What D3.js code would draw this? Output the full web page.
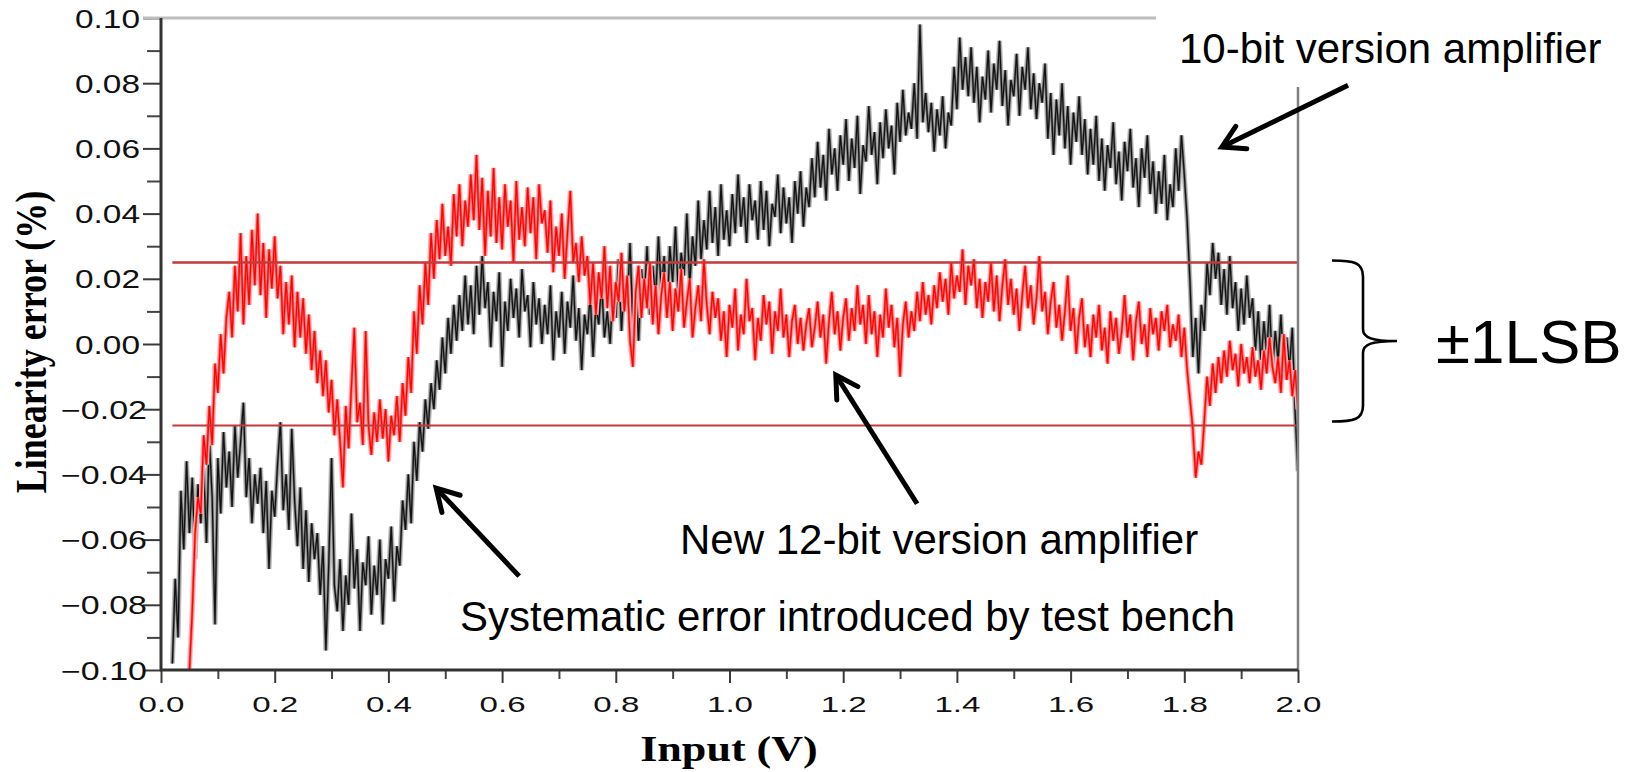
<!DOCTYPE html>
<html>
<head>
<meta charset="utf-8">
<script src="https://cdn.jsdelivr.net/npm/d3@7"></script>
<style>
  body { margin: 0; background: #fff; }
  svg { display: block; }
</style>
</head>
<body>
<div id="chart"></div>
<script>
// Linearity error (%), one sample every 5 mV
var sampleStep = 0.005;

// 10-bit version amplifier, first sample at 0.02 V
var tenBitStart = 0.02;
var tenBit = [
  -0.098,-0.072,-0.090,-0.045,-0.063,-0.036,-0.058,-0.041,-0.066,-0.043,-0.055,-0.038,-0.061,-0.029,-0.047,-0.086,-0.035,-0.052,-0.027,-0.044,
  -0.033,-0.050,-0.025,-0.041,-0.030,-0.018,-0.047,-0.035,-0.055,-0.040,-0.049,-0.038,-0.058,-0.042,-0.069,-0.045,-0.053,-0.037,-0.024,-0.051,
  -0.040,-0.057,-0.026,-0.048,-0.062,-0.044,-0.069,-0.051,-0.073,-0.055,-0.066,-0.058,-0.077,-0.062,-0.094,-0.068,-0.035,-0.074,-0.082,-0.066,
  -0.088,-0.071,-0.080,-0.052,-0.075,-0.063,-0.088,-0.067,-0.074,-0.059,-0.083,-0.068,-0.077,-0.060,-0.086,-0.066,-0.072,-0.056,-0.079,-0.062,
  -0.068,-0.048,-0.057,-0.040,-0.055,-0.030,-0.042,-0.024,-0.033,-0.017,-0.026,-0.012,-0.020,-0.005,-0.014,0.002,-0.009,0.008,-0.003,0.012,
  0.001,0.015,0.004,0.021,0.006,0.018,0.003,0.024,0.009,0.027,0.011,0.019,-0.001,0.016,0.007,0.022,-0.007,0.013,0.004,0.020,
  0.008,0.017,0.002,0.023,0.010,0.015,-0.001,0.019,0.006,0.014,0.000,0.012,0.003,0.018,-0.005,0.010,0.002,0.016,-0.003,0.013,
  0.005,0.021,0.001,0.011,-0.008,0.009,0.003,0.015,-0.004,0.012,0.006,0.019,0.002,0.010,0.000,0.017,0.008,0.026,0.004,0.020,
  0.011,0.031,0.006,0.018,0.001,0.023,0.013,0.030,0.009,0.024,0.014,0.033,0.016,0.027,0.008,0.030,0.019,0.036,0.015,0.028,
  0.021,0.040,0.018,0.033,0.024,0.044,0.026,0.038,0.029,0.047,0.031,0.042,0.027,0.049,0.032,0.041,0.030,0.046,0.034,0.052,
  0.036,0.045,0.031,0.049,0.038,0.044,0.032,0.050,0.035,0.047,0.030,0.043,0.039,0.052,0.034,0.048,0.037,0.045,0.031,0.050,
  0.040,0.053,0.036,0.048,0.042,0.057,0.045,0.062,0.048,0.058,0.044,0.066,0.052,0.060,0.047,0.064,0.055,0.069,0.050,0.063,
  0.054,0.070,0.046,0.061,0.056,0.073,0.058,0.065,0.049,0.068,0.057,0.072,0.060,0.067,0.052,0.074,0.062,0.078,0.064,0.071,
  0.066,0.080,0.063,0.098,0.068,0.077,0.065,0.074,0.059,0.072,0.064,0.076,0.060,0.071,0.067,0.085,0.072,0.094,0.078,0.088,
  0.076,0.091,0.074,0.085,0.068,0.082,0.075,0.090,0.071,0.086,0.078,0.093,0.073,0.084,0.067,0.081,0.076,0.089,0.070,0.085,
  0.078,0.091,0.072,0.083,0.069,0.080,0.074,0.086,0.063,0.077,0.058,0.075,0.064,0.080,0.060,0.073,0.055,0.071,0.062,0.076,
  0.058,0.069,0.052,0.066,0.055,0.070,0.050,0.063,0.047,0.061,0.054,0.068,0.049,0.059,0.044,0.062,0.053,0.066,0.048,0.057,
  0.042,0.060,0.051,0.064,0.046,0.056,0.040,0.053,0.043,0.058,0.038,0.049,0.042,0.060,0.047,0.064,0.052,0.038,0.019,-0.004,
  0.008,-0.009,0.012,0.004,0.025,0.015,0.031,0.020,0.028,0.012,0.023,0.009,0.027,0.011,0.019,0.004,0.017,0.006,0.021,0.008,
  0.014,-0.002,0.010,-0.006,0.007,-0.003,0.012,-0.008,0.004,-0.005,0.009,-0.010,0.002,-0.007,0.005,-0.021,-0.039
];

// new 12-bit version amplifier, first sample at 0.05 V
var twelveBitStart = 0.05;
var twelveBit = [
  -0.100,-0.082,-0.058,-0.047,-0.052,-0.028,-0.037,-0.019,-0.031,-0.006,-0.015,0.003,-0.009,0.008,0.016,0.002,0.024,0.010,0.034,0.006,
  0.027,0.012,0.035,0.018,0.040,0.015,0.031,0.008,0.029,0.017,0.033,0.014,0.024,0.003,0.019,0.006,0.021,-0.001,0.016,0.002,
  0.014,-0.003,0.009,-0.008,0.004,-0.012,-0.002,-0.016,-0.005,-0.021,-0.011,-0.028,-0.017,-0.030,-0.044,-0.019,-0.032,-0.013,0.005,-0.024,
  -0.018,-0.031,0.004,-0.025,-0.034,-0.021,-0.030,-0.017,-0.029,-0.020,-0.036,-0.022,-0.028,-0.016,-0.030,-0.012,-0.022,-0.004,-0.015,0.010,
  -0.003,0.018,0.006,0.025,0.012,0.034,0.020,0.038,0.026,0.043,0.027,0.036,0.024,0.046,0.033,0.049,0.030,0.044,0.036,0.052,
  0.038,0.058,0.035,0.051,0.027,0.047,0.033,0.054,0.031,0.045,0.029,0.049,0.036,0.044,0.025,0.050,0.032,0.042,0.030,0.048,
  0.034,0.045,0.026,0.049,0.037,0.041,0.028,0.044,0.022,0.036,0.027,0.040,0.020,0.034,0.047,0.025,0.031,0.019,0.033,0.021,
  0.027,0.012,0.025,0.009,0.022,0.014,0.030,0.011,0.024,0.007,0.019,0.013,0.028,0.010,0.021,0.001,-0.007,0.016,0.024,0.008,
  0.020,0.011,0.025,0.006,0.018,0.003,0.015,0.022,0.008,0.019,0.004,0.017,0.010,0.023,0.005,0.013,0.020,0.002,0.011,0.018,
  0.007,0.026,0.012,0.003,0.016,0.008,0.014,0.001,0.010,-0.004,0.012,0.005,0.017,-0.002,0.009,0.003,0.020,0.007,0.011,-0.005,
  0.008,0.001,0.015,0.006,0.013,-0.003,0.010,0.004,0.017,0.002,0.009,-0.004,0.007,0.012,0.000,0.008,-0.002,0.006,0.011,-0.001,
  0.005,0.013,0.002,0.009,-0.006,0.007,0.016,0.003,0.010,-0.002,0.008,0.014,0.001,0.011,0.004,0.018,0.006,0.012,0.000,0.015,
  0.003,0.010,-0.004,0.009,0.002,0.017,0.005,0.012,-0.001,0.008,-0.010,0.006,0.013,0.002,0.010,0.004,0.016,0.007,0.019,0.009,
  0.015,0.006,0.018,0.011,0.022,0.013,0.020,0.009,0.025,0.014,0.021,0.016,0.029,0.012,0.024,0.018,0.026,0.011,0.020,0.008,
  0.019,0.013,0.025,0.010,0.021,0.007,0.018,0.026,0.012,0.020,0.009,0.017,0.004,0.015,0.024,0.011,0.018,0.006,0.014,0.027,
  0.010,0.016,0.003,0.013,0.019,0.005,0.012,0.001,0.010,0.021,0.004,0.011,-0.003,0.008,0.014,-0.001,0.006,-0.004,0.009,0.002,
  0.012,-0.002,0.005,-0.006,0.010,0.001,0.008,-0.003,0.004,0.015,0.002,0.009,-0.005,0.007,0.013,0.000,0.006,-0.004,0.011,0.003,
  0.008,-0.002,0.010,0.004,0.012,-0.001,0.006,0.001,0.009,-0.004,0.005,-0.008,-0.017,-0.026,-0.041,-0.033,-0.037,-0.024,-0.010,-0.019,
  -0.006,-0.015,-0.004,-0.012,-0.002,-0.010,0.001,-0.008,-0.003,-0.013,0.000,-0.009,-0.004,-0.012,-0.001,-0.010,-0.005,-0.014,-0.002,-0.009,
  0.002,-0.007,-0.012,-0.004,-0.015,0.003,-0.011,-0.005,-0.016,-0.008,-0.020
];

// ticks
var xTicks = [0, 0.2, 0.4, 0.6, 0.8, 1.0, 1.2, 1.4, 1.6, 1.8, 2.0];
var xTickLabels = ["0.0", "0.2", "0.4", "0.6", "0.8", "1.0", "1.2", "1.4", "1.6", "1.8", "2.0"];
var xMinorTicks = [0.1, 0.3, 0.5, 0.7, 0.9, 1.1, 1.3, 1.5, 1.7, 1.9];
var yTicks = [-0.10, -0.08, -0.06, -0.04, -0.02, 0.00, 0.02, 0.04, 0.06, 0.08, 0.10];
var yTickLabels = ["\u22120.10", "\u22120.08", "\u22120.06", "\u22120.04", "\u22120.02", "0.00", "0.02", "0.04", "0.06", "0.08", "0.10"];
var yMinorTicks = [-0.09, -0.07, -0.05, -0.03, -0.01, 0.01, 0.03, 0.05, 0.07, 0.09];

// +/- 1 LSB band of the 12-bit amplifier
var lsbLimits = [0.025, -0.025];

var width = 1637, height = 772;
var plot = {left: 161, right: 1298, top: 18, bottom: 670};
var sans = "'Liberation Sans', Arial, Helvetica, sans-serif";
var serif = "'Liberation Serif', 'Times New Roman', Times, serif";

var x = d3.scaleLinear().domain([0, 2]).range([plot.left, plot.right]);
var y = d3.scaleLinear().domain([-0.1, 0.1]).range([plot.bottom, plot.top]);

var svg = d3.select("#chart").append("svg")
    .attr("width", width)
    .attr("height", height)
    .style("background", "#fff");

svg.append("clipPath").attr("id", "plotclip")
  .append("rect")
    .attr("x", plot.left).attr("y", plot.top - 4)
    .attr("width", plot.right - plot.left).attr("height", plot.bottom - plot.top + 4);

// minor ticks first, majors with labels on top
var yMinor = svg.append("g").attr("transform", "translate(" + plot.left + ",0)")
    .call(d3.axisLeft(y).tickValues(yMinorTicks).tickSize(14).tickFormat(""));
yMinor.select(".domain").remove();
yMinor.selectAll(".tick line").attr("stroke", "#444").attr("stroke-width", 2);

var yAxis = d3.axisLeft(y).tickValues(yTicks).tickSize(18).tickPadding(3)
    .tickFormat(function(d, i) { return yTickLabels[i]; });
var gy = svg.append("g").attr("transform", "translate(" + plot.left + ",0)").call(yAxis);
gy.select(".domain").remove();
gy.selectAll(".tick line").attr("stroke", "#3a3a3a").attr("stroke-width", 2);
gy.selectAll(".tick text")
    .attr("font-family", sans)
    .attr("font-size", 25)
    .attr("fill", "#111")
    .attr("x", function(d) { return d < -0.001 ? -14 : -21; })
    .attr("dy", "0.36em")
    .attr("textLength", function(d) { return d < -0.001 ? 86 : 65; })
    .attr("lengthAdjust", "spacingAndGlyphs");

var xMinor = svg.append("g").attr("transform", "translate(0," + plot.bottom + ")")
    .call(d3.axisBottom(x).tickValues(xMinorTicks).tickSize(9).tickFormat(""));
xMinor.select(".domain").remove();
xMinor.selectAll(".tick line").attr("stroke", "#444").attr("stroke-width", 2);

var xAxis = d3.axisBottom(x).tickValues(xTicks).tickSize(13)
    .tickFormat(function(d, i) { return xTickLabels[i]; });
var gx = svg.append("g").attr("transform", "translate(0," + plot.bottom + ")").call(xAxis);
gx.select(".domain").remove();
gx.selectAll(".tick line").attr("stroke", "#3a3a3a").attr("stroke-width", 2);
gx.selectAll(".tick text")
    .attr("font-family", sans)
    .attr("font-size", 22)
    .attr("fill", "#111")
    .attr("y", 42)
    .attr("dy", 0)
    .attr("textLength", 46)
    .attr("lengthAdjust", "spacingAndGlyphs");

// the two traces: a pale wide band under a dark line
var line = d3.line()
    .x(function(d) { return x(d.v); })
    .y(function(d) { return y(d.e); });

function drawTrace(values, start, pale, mid, dark) {
  var pts = values.map(function(e, i) { return {v: start + i * sampleStep, e: e}; });
  var g = svg.append("g").attr("clip-path", "url(#plotclip)");
  g.append("path").datum(pts)
      .attr("d", line)
      .attr("fill", "none")
      .attr("stroke", pale)
      .attr("stroke-width", 5);
  g.append("path").datum(pts)
      .attr("d", line)
      .attr("fill", "none")
      .attr("stroke", mid)
      .attr("stroke-width", 2.6);
  g.append("path").datum(pts)
      .attr("d", line)
      .attr("fill", "none")
      .attr("stroke", dark)
      .attr("stroke-width", 1.2);
}
drawTrace(tenBit, tenBitStart, "#bdbdbd", "#6f6f6f", "#111");
drawTrace(twelveBit, twelveBitStart, "#ffb4b4", "#ff5a5a", "#ff0000");

// +/-1 LSB limits
svg.selectAll(".lsb")
    .data(lsbLimits)
  .enter().append("line")
    .attr("class", "lsb")
    .attr("x1", x(0.02)).attr("x2", plot.right)
    .attr("y1", function(d) { return y(d); })
    .attr("y2", function(d) { return y(d); })
    .attr("stroke", "#c23a3a")
    .attr("stroke-width", function(d, i) { return i === 0 ? 2.6 : 2; });

// frame
svg.append("line")
    .attr("x1", 143).attr("x2", 1156).attr("y1", plot.top).attr("y2", plot.top)
    .attr("stroke", "#bdbdbd").attr("stroke-width", 3);
svg.append("line")
    .attr("x1", plot.right).attr("x2", plot.right).attr("y1", 87).attr("y2", plot.bottom)
    .attr("stroke", "#808080").attr("stroke-width", 2.5);
svg.append("line")
    .attr("x1", plot.left).attr("x2", plot.left).attr("y1", plot.top).attr("y2", plot.bottom + 1)
    .attr("stroke", "#333").attr("stroke-width", 3);
svg.append("line")
    .attr("x1", plot.left - 1).attr("x2", plot.right).attr("y1", plot.bottom).attr("y2", plot.bottom)
    .attr("stroke", "#333").attr("stroke-width", 3);

// axis titles (the original bitmap was stretched sideways)
svg.append("text")
    .attr("transform", "translate(46," + 342 + ") scale(1.25,1) rotate(-90)")
    .attr("text-anchor", "middle")
    .attr("font-family", serif)
    .attr("font-weight", "bold")
    .attr("font-size", 36)
    .attr("fill", "#000")
    .text("Linearity error (%)");
svg.append("text")
    .attr("transform", "translate(729,761) scale(1.26,1)")
    .attr("text-anchor", "middle")
    .attr("font-family", serif)
    .attr("font-weight", "bold")
    .attr("font-size", 35)
    .attr("fill", "#000")
    .text("Input (V)");

// annotations
function arrow(v1, e1, v2, e2) {
  var x1 = x(v1), y1 = y(e1), x2 = x(v2), y2 = y(e2);
  var ang = Math.atan2(y2 - y1, x2 - x1), len = 25, spread = Math.PI / 6;
  var a = [x2 - len * Math.cos(ang - spread), y2 - len * Math.sin(ang - spread)];
  var b = [x2 - len * Math.cos(ang + spread), y2 - len * Math.sin(ang + spread)];
  svg.append("line")
      .attr("x1", x1).attr("y1", y1).attr("x2", x2).attr("y2", y2)
      .attr("stroke", "#000").attr("stroke-width", 5);
  svg.append("path")
      .attr("d", "M" + a[0] + "," + a[1] + "L" + x2 + "," + y2 + "L" + b[0] + "," + b[1])
      .attr("fill", "none").attr("stroke", "#000").attr("stroke-width", 5)
      .attr("stroke-linejoin", "miter").attr("stroke-linecap", "round");
}
arrow(2.088, 0.0794, 1.866, 0.0604);
arrow(1.330, -0.0490, 1.187, -0.0095);
arrow(0.630, -0.0712, 0.484, -0.0442);

function note(px, py, size, str) {
  svg.append("text")
      .attr("x", px).attr("y", py)
      .attr("font-family", sans)
      .attr("font-size", size)
      .attr("fill", "#000")
      .text(str);
}
note(1179, 63, 42, "10-bit version amplifier");
note(680, 554, 42, "New 12-bit version amplifier");
note(460, 631, 42, "Systematic error introduced by test bench");
note(1436, 363, 62, "\u00b11LSB");

// brace spanning the LSB band
var bt = y(lsbLimits[0]) - 2, bb = y(lsbLimits[1]) - 4, bm = (bt + bb) / 2;
svg.append("path")
    .attr("d", "M1332," + bt +
      " C1354," + bt + " 1363," + (bt + 2) + " 1363," + (bt + 16) +
      " L1363," + (bm - 12) +
      " C1363," + (bm - 3) + " 1372," + bm + " 1397," + bm +
      " C1372," + bm + " 1363," + (bm + 3) + " 1363," + (bm + 12) +
      " L1363," + (bb - 16) +
      " C1363," + (bb - 2) + " 1354," + bb + " 1332," + bb)
    .attr("fill", "none")
    .attr("stroke", "#000")
    .attr("stroke-width", 2.6);
</script>
</body>
</html>
